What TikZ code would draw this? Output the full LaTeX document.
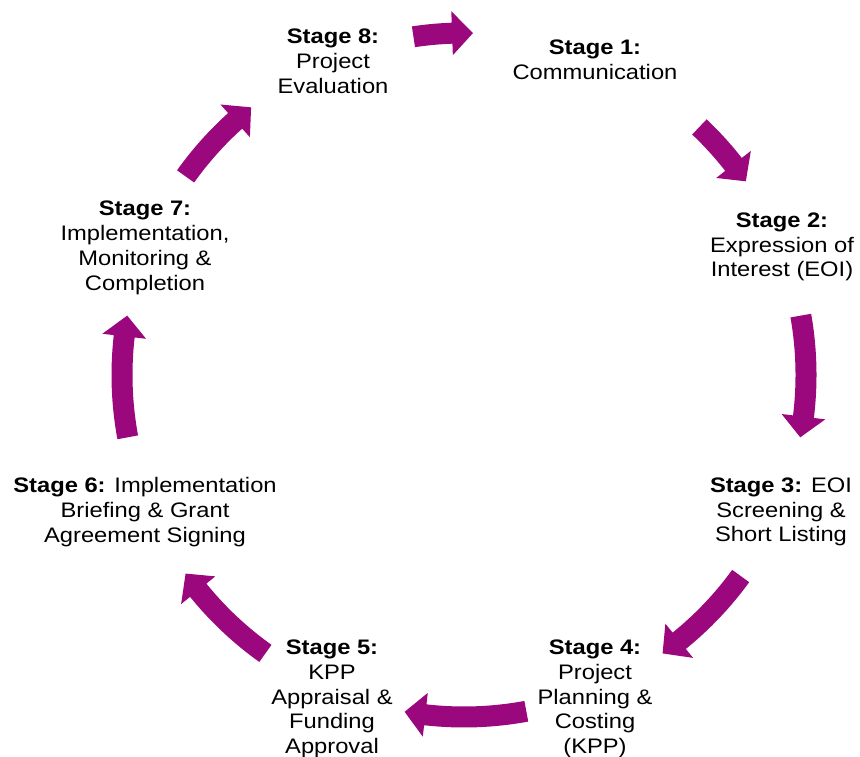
\documentclass[tikz,border=0pt]{standalone}
\usepackage{fontspec}
\setmainfont{Liberation Sans}[FakeStretch=1.13]
\usetikzlibrary{positioning}
\definecolor{cyclepurple}{HTML}{9B087E}
\tikzset{
  x=1pt, y=1pt,
  stage/.style={align=center, inner sep=0pt, font=\fontsize{21}{24.8}\selectfont},
  cycle arrow/.style={fill=cyclepurple},
}
% block arrow on the ring: #1 = tail angle, #2 = tip angle (clockwise)
\newcommand{\cyclearrow}[2]{%
  \fill[cycle arrow, shift={(hub)}] (#1:352.5)
    arc[start angle=#1, end angle=#2+3.5, radius=352.5pt]
    -- (#2+3.5:364) -- (#2:342) -- (#2+3.5:320) -- (#2+3.5:331.5)
    arc[start angle=#2+3.5, end angle=#1, radius=331.5pt] -- cycle;
}

\begin{document}
\begin{tikzpicture}
		\useasboundingbox (0,0) rectangle (860,756);
		\coordinate (hub) at (464,381);

		% stages
		\node[stage] (s8) at (333,695) {\textbf{Stage 8:}\\Project\\Evaluation};
		\node[stage] (s1) at (595,696) {\textbf{Stage 1:}\\Communication};
		\node[stage] (s2) at (782,509) {\textbf{Stage 2:}\\Expression of\\Interest (EOI)};
		\node[stage] (s3) at (781,244) {\textbf{Stage 3:} EOI\\Screening \&\\Short Listing};
		\node[stage] (s4) at (595,57) {\textbf{Stage 4:}\\Project\\Planning \&\\Costing\\(KPP)};
		\node[stage] (s5) at (332,57) {\textbf{Stage 5:}\\KPP\\Appraisal \&\\Funding\\Approval};
		\node[stage] (s6) at (145,244) {\textbf{Stage 6:} Implementation\\Briefing \& Grant\\Agreement Signing};
		\node[stage] (s7) at (145,508) {\textbf{Stage 7:}\\Implementation,\\Monitoring \&\\Completion};

		% arrows
		\cyclearrow{98.5}{88.5}
		\cyclearrow{46.5}{34.5}
		\cyclearrow{10}{-10.5}
		\cyclearrow{-36}{-54.5}
		\cyclearrow{-79.5}{-100}
		\cyclearrow{-125.5}{-144.5}
		\cyclearrow{190.5}{170}
		\cyclearrow{144.5}{128.5}

	\end{tikzpicture}
\end{document}
